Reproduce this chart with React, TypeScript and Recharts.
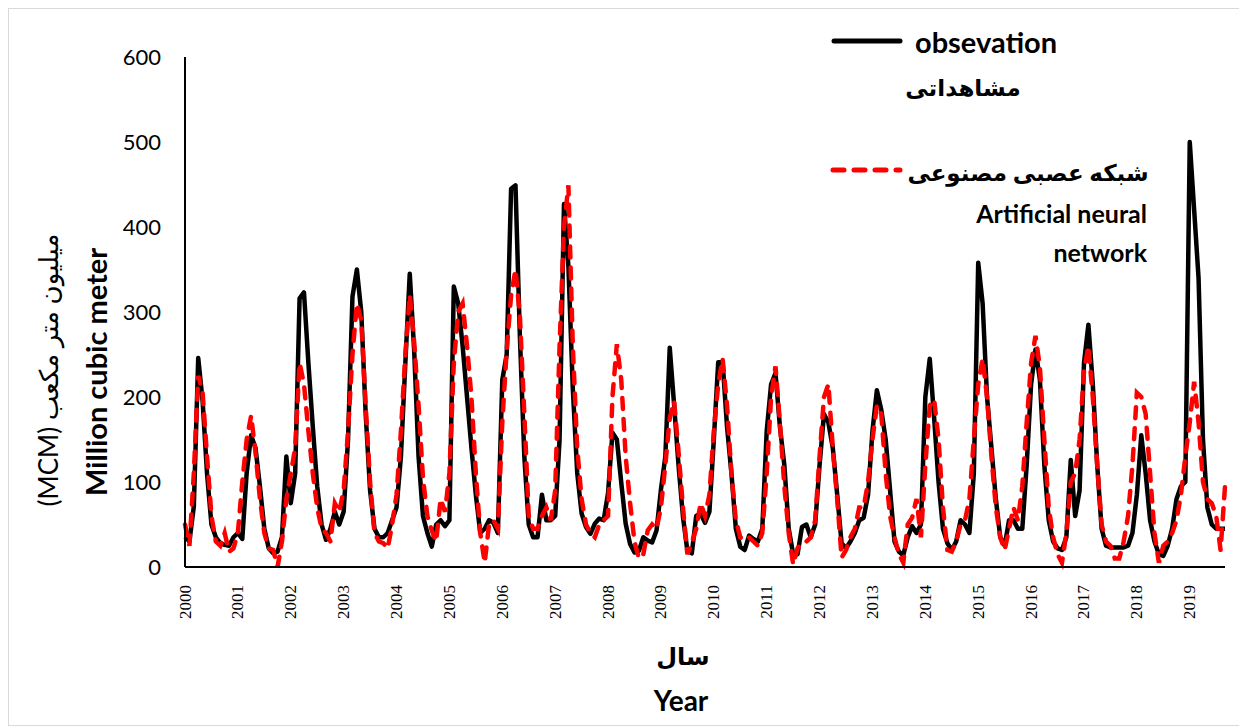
import { LineChart, Line, XAxis, YAxis } from 'recharts'

// monthly inflow, Jan 2000 .. Sep 2019 (million cubic meter)
const observed = [
  35, 30, 71, 246, 195, 110, 50, 35, 28, 26, 25, 35,
  40, 33, 111, 155, 140, 95, 45, 22, 16, 18, 35, 130,
  75, 110, 316, 323, 240, 165, 95, 50, 32, 45, 65, 50,
  65, 150, 318, 350, 300, 180, 90, 45, 35, 35, 40, 55,
  70, 130, 240, 345, 255, 130, 60, 40, 24, 50, 55, 48,
  55, 330, 310, 260, 200, 140, 85, 40, 45, 55, 52, 40,
  220, 250, 445, 449, 270, 130, 50, 35, 35, 85, 55, 55,
  60, 150, 427, 354, 210, 111, 63, 47, 39, 51, 57, 55,
  87, 158, 150, 99, 51, 27, 17, 19, 35, 31, 29, 43,
  91, 130, 258, 190, 119, 59, 19, 16, 60, 63, 52, 65,
  150, 241, 241, 165, 110, 45, 24, 20, 37, 33, 30, 45,
  160, 215, 228, 165, 120, 45, 15, 15, 47, 50, 35, 50,
  120, 180, 170, 140, 85, 28, 22, 30, 40, 55, 58, 85,
  160, 208, 185, 150, 90, 30, 18, 14, 35, 48, 40, 50,
  200, 245, 175, 100, 45, 28, 20, 30, 55, 50, 40, 110,
  358, 310, 200, 140, 80, 35, 25, 55, 55, 45, 45, 120,
  215, 256, 220, 120, 55, 30, 22, 20, 35, 126, 60, 90,
  240, 285, 215, 120, 45, 25, 23, 23, 23, 23, 25, 40,
  85, 155, 110, 55, 30, 15, 13, 25, 45, 80, 95, 100,
  500, 420, 340, 150, 70, 50, 45, 45, 45,
]

const ann = [
  50, 25, 110, 225, 205, 130, 60, 30, 25, 40, 18, 22,
  40, 100, 150, 178, 135, 80, 40, 22, 20, 0, 30, 80,
  110, 140, 240, 215, 160, 110, 70, 45, 40, 30, 75, 65,
  90, 160, 250, 310, 290, 190, 100, 40, 30, 28, 22, 50,
  85, 160, 250, 320, 265, 190, 105, 60, 43, 30, 80, 65,
  110, 240, 300, 310, 260, 200, 110, 40, 5, 50, 55, 45,
  170, 255, 320, 350, 295, 180, 60, 45, 45, 60, 70, 55,
  90, 260, 400, 449, 260, 140, 80, 50, 40, 35, 50, 55,
  60, 200, 262, 220, 130, 75, 30, 10, 15, 43, 50, 45,
  70, 120, 175, 195, 135, 70, 15, 28, 45, 75, 60, 85,
  160, 215, 245, 190, 110, 55, 35, 32, 35, 30, 25, 40,
  110, 200, 236, 170, 95, 40, 3, 22, 28, 30, 35, 55,
  130, 200, 215, 140, 80, 11, 20, 35, 45, 70, 70, 100,
  150, 190, 180, 110, 60, 35, 15, 5, 50, 58, 80, 35,
  120, 190, 197, 150, 70, 20, 18, 30, 50, 55, 80, 150,
  215, 245, 200, 130, 70, 35, 20, 45, 70, 55, 95, 170,
  240, 272, 235, 150, 70, 35, 15, 5, 40, 100, 110, 150,
  230, 260, 200, 120, 50, 30, 25, 10, 10, 30, 60, 120,
  205, 200, 180, 110, 40, 5, 25, 30, 40, 55, 85, 130,
  170, 218, 170, 100, 80, 75, 60, 20, 95,
]

const years = [
  '2000', '2001', '2002', '2003', '2004', '2005', '2006', '2007', '2008', '2009',
  '2010', '2011', '2012', '2013', '2014', '2015', '2016', '2017', '2018', '2019',
]

const yTicks = [0, 100, 200, 300, 400, 500, 600]

const data = observed.map((v, i) => ({ m: i, obs: v, ann: ann[i] }))

const latin = "Lato, 'DejaVu Sans', sans-serif"

function YearTick(props: any) {
  const { x, y, payload } = props
  const label = years[Math.floor(payload.value / 12)]
  const ty = y + 10
  return (
    <text
      x={x}
      y={ty}
      transform={`rotate(-90 ${x} ${ty})`}
      textAnchor="end"
      dominantBaseline="central"
      fontFamily="'Liberation Serif', serif"
      fontSize={17}
      fill="#000"
    >
      {label}
    </text>
  )
}

export default function App() {
  return (
    <div
      style={{
        position: 'relative',
        width: 1239,
        height: 718,
        boxSizing: 'border-box',
        border: '1px solid #d9d9d9',
        background: '#fff',
      }}
    >
      <div style={{ position: 'absolute', left: 0, top: 0 }}>
        <LineChart
          width={1229}
          height={700}
          data={data}
          margin={{ top: 48, right: 13, left: 116, bottom: 82 }}
        >
          <XAxis
            dataKey="m"
            type="category"
            interval={11}
            axisLine={{ stroke: '#000', strokeWidth: 2 }}
            tickLine={false}
            tick={<YearTick />}
            height={60}
          />
          <YAxis
            domain={[0, 600]}
            ticks={yTicks}
            width={60}
            axisLine={{ stroke: '#000', strokeWidth: 2 }}
            tickLine={false}
            tickSize={0}
            tickMargin={24}
            tick={{ fontSize: 22, fill: '#000', fontFamily: latin }}
          />
          <Line
            dataKey="obs"
            stroke="#000"
            strokeWidth={4.5}
            strokeLinejoin="round"
            dot={false}
            isAnimationActive={false}
          />
          <Line
            dataKey="ann"
            stroke="#ff0000"
            strokeWidth={4.5}
            strokeDasharray="11 10"
            strokeLinecap="round"
            dot={false}
            isAnimationActive={false}
          />
        </LineChart>
      </div>

      <svg
        width={1229}
        height={716}
        style={{ position: 'absolute', left: 0, top: 0, pointerEvents: 'none' }}
        fontFamily={latin}
      >
        {/* y axis titles */}
        <text
          x={39}
          y={361}
          transform="rotate(-90 39 361)"
          textAnchor="middle"
          dominantBaseline="central"
          direction="rtl"
          fontSize={26}
          fill="#000"
        >
          میلیون متر مکعب (MCM)
        </text>
        <text
          x={86}
          y={363}
          transform="rotate(-90 86 363)"
          textAnchor="middle"
          dominantBaseline="central"
          fontSize={29}
          fontWeight="bold"
          fill="#000"
        >
          Million cubic meter
        </text>

        {/* x axis titles */}
        <text x={674} y={646} textAnchor="middle" dominantBaseline="central" fontSize={24} fontWeight="bold" fill="#000">
          سال
        </text>
        <text x={672} y={691} textAnchor="middle" dominantBaseline="central" fontSize={28} fontWeight="bold" fill="#000">
          Year
        </text>

        {/* legend */}
        <line x1={825} y1={32} x2={891} y2={32} stroke="#000" strokeWidth={5} strokeLinecap="round" />
        <text x={906} y={32} dominantBaseline="central" fontSize={29} fontWeight="bold" fill="#000">
          obsevation
        </text>
        <text x={954} y={78} textAnchor="middle" dominantBaseline="central" direction="rtl" fontSize={23} fontWeight="bold" fill="#000">
          مشاهداتی
        </text>

        <line x1={824} y1={161} x2={891} y2={161} stroke="#ff0000" strokeWidth={5} strokeDasharray="11 10" strokeLinecap="round" />
        <text x={1019} y={163} textAnchor="middle" dominantBaseline="central" direction="rtl" fontSize={23} fontWeight="bold" fill="#000">
          شبکه عصبی مصنوعی
        </text>
        <text x={1138} y={204} textAnchor="end" dominantBaseline="central" fontSize={25} fontWeight="bold" fill="#000">
          Artificial neural
        </text>
        <text x={1138} y={243} textAnchor="end" dominantBaseline="central" fontSize={25} fontWeight="bold" fill="#000">
          network
        </text>
      </svg>
    </div>
  )
}
